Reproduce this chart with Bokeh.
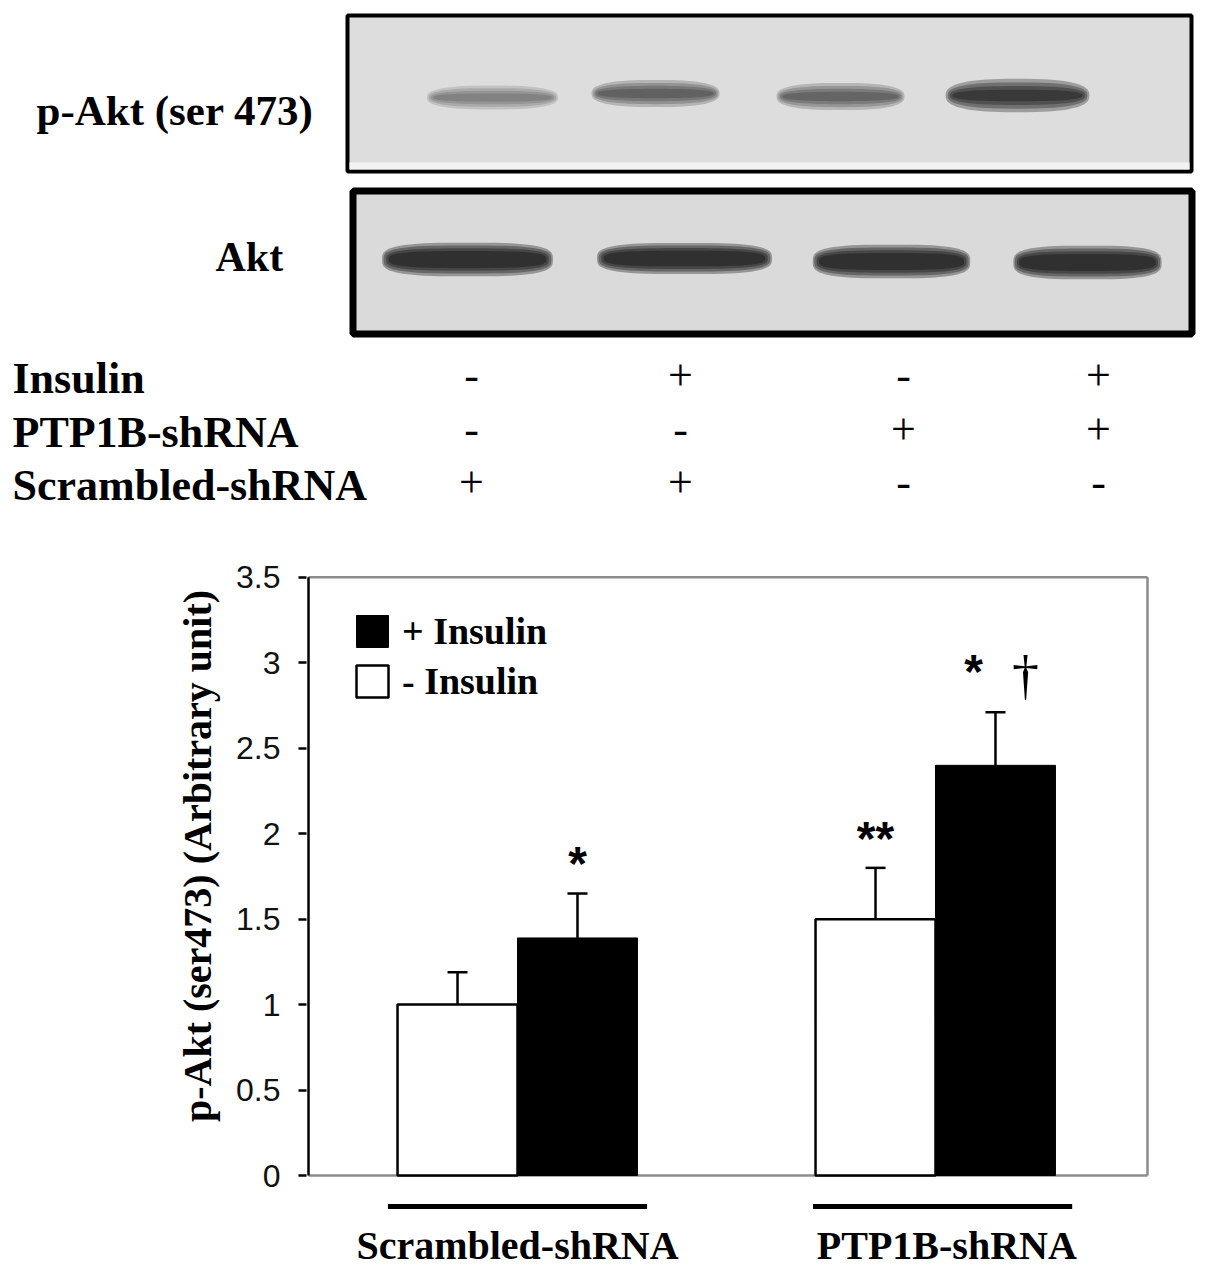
import numpy as np
from bokeh.plotting import figure
from bokeh.layouts import column
from bokeh.models import Range1d, FixedTicker, Whisker, TeeHead, ColumnDataSource, Legend, LegendItem
from bokeh.core.properties import value
from bokeh.embed import file_html
from bokeh.resources import INLINE

SERIF = "Liberation Serif"
SANS = "Liberation Sans"

# ---------------- data ----------------
groups = ["Scrambled-shRNA", "PTP1B-shRNA"]
minus_insulin = [1.00, 1.50]
minus_insulin_err = [0.19, 0.30]
plus_insulin = [1.39, 2.40]
plus_insulin_err = [0.26, 0.31]
series_labels = ["+ Insulin", "- Insulin"]
sig_minus = ["", "**"]
sig_plus = ["*", "*"]
sig_dagger = ["", "\u2020"]

y_ticks = [0, 0.5, 1, 1.5, 2, 2.5, 3, 3.5]
y_tick_labels = ["0", "0.5", "1", "1.5", "2", "2.5", "3", "3.5"]
y_title = "p-Akt (ser473) (Arbitrary unit)"

blot_labels = ["p-Akt (ser 473)", "Akt"]
condition_rows = ["Insulin", "PTP1B-shRNA", "Scrambled-shRNA"]
insulin_signs = ["-", "+", "-", "+"]
ptp1b_signs = ["-", "-", "+", "+"]
scrambled_signs = ["+", "+", "-", "-"]
pakt_intensity = [0.40, 0.56, 0.54, 0.74]
akt_intensity = [0.78, 0.78, 0.78, 0.78]

W = 1197

def base_fig(**kw):
    f = figure(toolbar_location=None, output_backend="svg", title=None,
               x_axis_location=None, **kw)
    f.grid.visible = False
    f.outline_line_color = None
    f.background_fill_color = "white"
    f.border_fill_color = "white"
    try:
        f.frame_align = False
    except Exception:
        pass
    return f

# ---------------- top figure: blots + condition table ----------------
top = base_fig(width=W, height=530, x_range=Range1d(0, W), y_range=Range1d(530, 0),
               y_axis_location=None, min_border=0)

top.quad(left=[347], right=[1191], top=[15], bottom=[171], fill_color="#dddddd",
         line_color="black", line_width=4)
top.quad(left=[349], right=[1189], top=[162], bottom=[169], fill_color="#f3f3f3", line_color=None)
top.quad(left=[352.5], right=[1191.5], top=[190.5], bottom=[333.5], fill_color="#dadada",
         line_color="black", line_width=7)

def band_shape(cx, cy, w, h, n=3.0, m=72):
    t = np.linspace(0, 2 * np.pi, m, endpoint=False)
    c, s = np.cos(t), np.sin(t)
    xs = cx + (w / 2) * np.sign(c) * np.abs(c) ** (2 / n)
    ys = cy + (h / 2) * np.sign(s) * np.abs(s) ** (2 / n)
    return list(xs), list(ys)

def draw_bands(fig, xs_c, ys_c, ws, hs, intens, layers, n):
    X, Y, A = [], [], []
    for cx, cy, w, h, inten in zip(xs_c, ys_c, ws, hs, intens):
        a = 1 - (1 - inten) ** (1.0 / len(layers))
        for sw, sh in layers:
            bx, by = band_shape(cx, cy, w * sw, h * sh, n=n)
            X.append(bx); Y.append(by); A.append(a)
    fig.patches(xs=X, ys=Y, fill_color="black", fill_alpha=A, line_color=None)

pakt_x = [492, 655, 840, 1017]
pakt_y = [97, 93, 96, 95]
pakt_w = [125, 122, 122, 137]
pakt_h = [15, 17, 17, 21]
draw_bands(top, pakt_x, pakt_y, pakt_w, pakt_h, pakt_intensity,
           [(1.05, 1.6), (1.02, 1.25), (0.99, 0.9), (0.95, 0.55)], 2.6)

akt_x = [467, 684, 891, 1087]
akt_y = [259, 258, 261, 262]
akt_w = [166, 170, 153, 144]
akt_h = [28, 26, 28, 28]
draw_bands(top, akt_x, akt_y, akt_w, akt_h, akt_intensity,
           [(1.03, 1.2), (1.01, 1.0), (0.98, 0.8), (0.95, 0.6)], 3.2)

top.text(x=[36], y=[110], text=[blot_labels[0]], text_font=value(SERIF), text_font_style="bold",
         text_font_size="43px", text_color="black", text_align="left", text_baseline="middle")
top.text(x=[215], y=[256], text=[blot_labels[1]], text_font=value(SERIF), text_font_style="bold",
         text_font_size="42px", text_color="black", text_align="left", text_baseline="middle")

row_mid = [378, 432, 485]
top.text(x=[12, 12, 12], y=row_mid, text=condition_rows, text_font=value(SERIF),
         text_font_style="bold", text_font_size="44px", text_color="black",
         text_align="left", text_baseline="middle")
col_x = [471, 680, 903, 1098]
sx, sy, st = [], [], []
for rm, signs in zip(row_mid, [insulin_signs, ptp1b_signs, scrambled_signs]):
    for cx, s in zip(col_x, signs):
        sx.append(cx); sy.append(rm - 3); st.append(s)
top.text(x=sx, y=sy, text=st, text_font=value(SERIF), text_font_size="44px",
         text_color="black", text_align="center", text_baseline="middle")

# ---------------- bar chart ----------------
PPU = 170.9   # px per y unit
GPX = 418.0   # px per group
x_rng = Range1d(0.5 - 2 / GPX, 0.5 + (1152 - 308) / GPX)
bot = base_fig(width=W, height=662, x_range=x_rng,
               y_range=Range1d(-2 / PPU, (1175 - 534) / PPU),
               y_axis_location="left",
               min_border_left=306, min_border_right=45, min_border_top=4, min_border_bottom=15)

gx = np.arange(1, len(groups) + 1, dtype=float)
bw = 0.287
minus_x = gx - bw / 2
plus_x = gx + bw / 2

xr0, xr1 = 0.5, 0.5 + (1147 - 308) / GPX
bot.line(x=[xr0, xr1], y=[3.5, 3.5], line_color="#8c8c8c", line_width=2.5)
bot.line(x=[xr1, xr1], y=[0, 3.5], line_color="#8c8c8c", line_width=2.5)
bot.line(x=[xr0, xr1], y=[0, 0], line_color="#8c8c8c", line_width=2.5)

r_minus = bot.vbar(x=minus_x, top=minus_insulin, width=bw, fill_color="white",
                   line_color="black", line_width=2.5)
r_plus = bot.vbar(x=plus_x, top=plus_insulin, width=bw, fill_color="black",
                  line_color="black", line_width=1)
# y axis line (black), drawn over the frame
bot.line(x=[xr0, xr0], y=[0, 3.5], line_color="black", line_width=2.5)

minus_upper = [v + e for v, e in zip(minus_insulin, minus_insulin_err)]
plus_upper = [v + e for v, e in zip(plus_insulin, plus_insulin_err)]
err_src = ColumnDataSource(dict(x=list(minus_x) + list(plus_x),
                                lower=minus_insulin + plus_insulin,
                                upper=minus_upper + plus_upper))
bot.add_layout(Whisker(source=err_src, base="x", lower="lower", upper="upper",
                       dimension="height", line_color="black", line_width=2.5,
                       upper_head=TeeHead(size=20, line_width=2.5, line_color="black"),
                       lower_head=None))

# significance marks
bot.text(x=list(minus_x), y=[u + 29 / PPU for u in minus_upper], text=sig_minus,
         text_font=value(SANS), text_font_style="bold", text_font_size="48px", text_color="black",
         text_align="center", text_baseline="middle")
bot.text(x=[plus_x[0], plus_x[1] - 22 / GPX], y=[plus_upper[0] + 30 / PPU, plus_upper[1] + 41 / PPU],
         text=sig_plus, text_font=value(SANS), text_font_style="bold", text_font_size="48px",
         text_color="black", text_align="center", text_baseline="middle")
bot.text(x=[plus_x[1] + 30 / GPX], y=[plus_upper[1] + 36 / PPU], text=[sig_dagger[1]],
         text_font=value(SERIF), text_font_size="54px", text_color="black",
         text_align="center", text_baseline="middle")

yax = bot.yaxis[0]
yax.ticker = FixedTicker(ticks=y_ticks)
yax.major_label_overrides = {t: l for t, l in zip(y_ticks, y_tick_labels)}
yax.axis_line_color = None
yax.major_tick_line_width = 2.5
yax.major_tick_line_color = "black"
yax.major_tick_out = 8
yax.major_tick_in = 0
yax.minor_tick_out = 0
yax.minor_tick_in = 0
yax.major_label_standoff = 18
yax.major_label_text_font = SANS
yax.major_label_text_font_size = "32px"
yax.major_label_text_color = "#111111"
yax.axis_label = y_title
yax.axis_label_text_font = SERIF
yax.axis_label_text_font_style = "bold"
yax.axis_label_text_font_size = "40px"
yax.axis_label_text_color = "black"
yax.axis_label_standoff = 13

legend = Legend(items=[LegendItem(label=series_labels[0], renderers=[r_plus]),
                       LegendItem(label=series_labels[1], renderers=[r_minus])],
                location=(36, 464), orientation="vertical", padding=10, margin=0,
                spacing=6, glyph_width=40, glyph_height=40, label_standoff=10,
                label_text_font=SERIF, label_text_font_style="bold",
                label_text_font_size="38px", label_text_color="black",
                background_fill_alpha=0, border_line_alpha=0)
bot.add_layout(legend)

# ---------------- group labels under the chart ----------------
lab = base_fig(width=W, height=80, x_range=x_rng,
               y_range=Range1d((1175 - 1272) / PPU, (1175 - 1192) / PPU),
               y_axis_location=None,
               min_border_left=306, min_border_right=45, min_border_top=0, min_border_bottom=0)
ul_c = [1.0, 2.017]
ul_half = 0.31
lab.segment(x0=[c - ul_half for c in ul_c], x1=[c + ul_half for c in ul_c],
            y0=[-31 / PPU] * 2, y1=[-31 / PPU] * 2, line_color="black", line_width=5)
lab.text(x=[1.0, 2.027], y=[-70 / PPU] * 2, text=groups, text_font=value(SERIF),
         text_font_style="bold", text_font_size="40px", text_color="black",
         text_align="center", text_baseline="middle")

layout = column(top, bot, lab)
open("out.html", "w").write(file_html(layout, INLINE))
